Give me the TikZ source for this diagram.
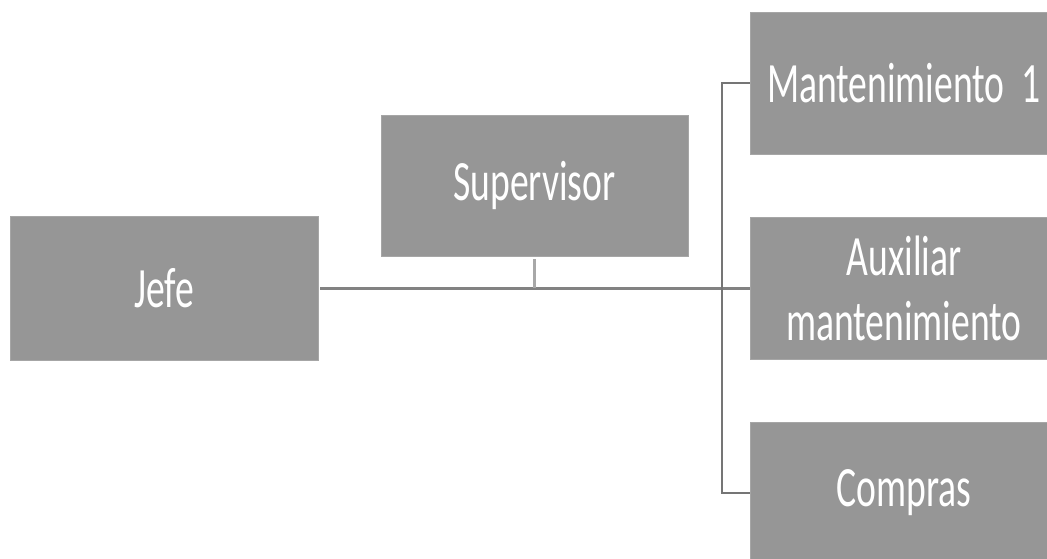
\documentclass[tikz,border=0pt]{standalone}
\usepackage{fontspec}
\setmainfont[FakeStretch=0.66]{Carlito}
\begin{document}
\begin{tikzpicture}[x=1pt,y=-1pt,
  orgbox/.style={fill=boxgray, draw=boxgray!85!white, line width=0.8pt, inner sep=0pt,
    text=white, font=\fontsize{57}{65}\selectfont, align=center},
  trunk/.style={draw=linegray, line width=3pt},
  branch/.style={draw=linegray!90!black, line width=1.6pt}]
\definecolor{boxgray}{RGB}{150,150,150}
\definecolor{linegray}{RGB}{130,130,130}
\useasboundingbox (0,0) rectangle (1047,558);
\clip (0,0) rectangle (1047,558);
% boxes
\node[orgbox, minimum width=308pt, minimum height=144pt] (jefe) at (164,288) {Jefe};
\node[orgbox, minimum width=307pt, minimum height=141pt] (sup) at (534.5,185.5) {Supervisor};
\node[orgbox, minimum width=308pt, minimum height=142pt] (mant) at (904,83) {Mantenimiento\hspace{0.3em}1};
\node[orgbox, minimum width=308pt, minimum height=142pt] (aux) at (904,288) {Auxiliar\\mantenimiento};
\node[orgbox, minimum width=308pt, minimum height=142pt] (comp) at (904,493) {Compras};
% connectors
\coordinate (bus) at (722,288);
\draw[trunk] (jefe.east) ++(2,0) -- (aux.west);
\draw[linegray!70!white, line width=2.5pt] ([yshift=-3pt]sup.south) -- (sup.south |- jefe.east);
\draw[branch] (mant.west) -| (bus) |- (comp.west);
\end{tikzpicture}
\end{document}
